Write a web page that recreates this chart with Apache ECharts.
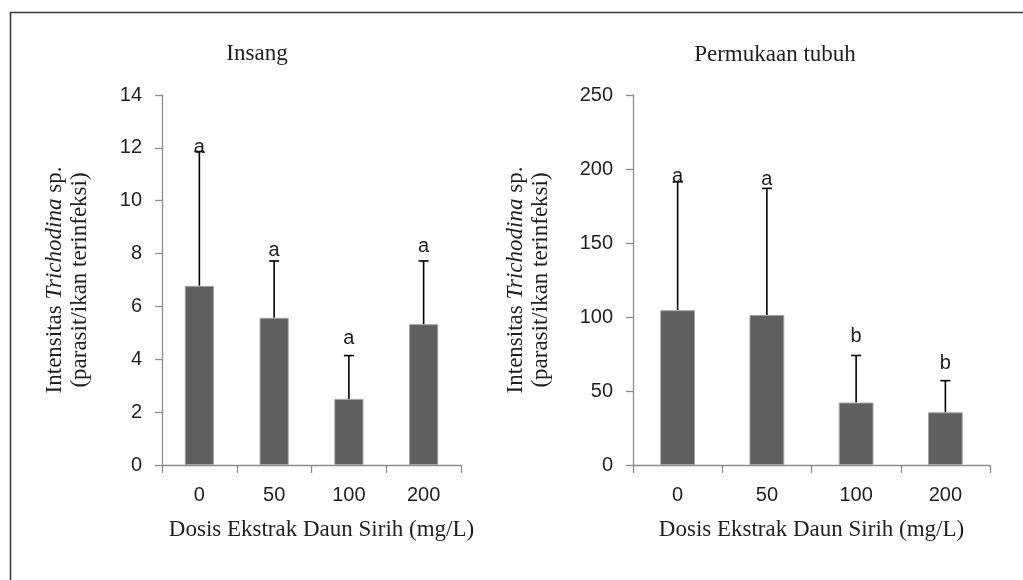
<!DOCTYPE html>
<html><head><meta charset="utf-8">
<script src="https://cdn.jsdelivr.net/npm/echarts@6/dist/echarts.min.js"></script>
<style>html,body{margin:0;padding:0;background:#fff}#c{width:1023px;height:580px}</style>
</head><body><div id="c"></div>
<script>
// ---- data ----
const doses = ['0', '50', '100', '200'];
const insangMean = [6.78, 5.57, 2.5, 5.33];
const insangUpper = [11.86, 7.72, 4.14, 7.72];
const insangLetters = ['a', 'a', 'a', 'a'];
const insangLetterAt = [12.0, 8.1, 4.8, 8.25];
const tubuhMean = [104.6, 101.4, 42.2, 35.6];
const tubuhUpper = [191.3, 186.9, 74, 57];
const tubuhLetters = ['a', 'a', 'b', 'b'];
const tubuhLetterAt = [194.7, 193, 87, 68.6];
const insangAxis = { min: 0, max: 14, interval: 2 };
const tubuhAxis = { min: 0, max: 250, interval: 50 };
const titles = ['Insang', 'Permukaan tubuh'];
const xName = 'Dosis Ekstrak Daun Sirih (mg/L)';

const SERIF = '"Liberation Serif", "Times New Roman", serif';
const SANS = '"Liberation Sans", Arial, sans-serif';
const TXT = '#1f1f1f';
const AX = '#8c8c8c';

const yName = '{n|Intensitas }{i|Trichodina}{n| sp.}\n{n|(parasit/ikan terinfeksi)}';
const yRich = {
  n: { fontFamily: SERIF, fontSize: 23, color: TXT, lineHeight: 25 },
  i: { fontFamily: SERIF, fontSize: 23, color: TXT, fontStyle: 'italic', lineHeight: 25 }
};

function xAxisOpt(gi, pad) {
  return {
    type: 'category', gridIndex: gi, data: doses,
    axisLine: { lineStyle: { color: AX, width: 1.3 } },
    axisTick: { show: true, length: 8, lineStyle: { color: AX, width: 1.3 } },
    axisLabel: { color: TXT, fontFamily: SANS, fontSize: 20, margin: 20 },
    name: xName, nameLocation: 'middle', nameGap: 53,
    nameTextStyle: { fontFamily: SERIF, fontSize: 23, color: TXT, padding: pad }
  };
}
function yAxisOpt(gi, ax, gap) {
  return {
    type: 'value', gridIndex: gi, min: ax.min, max: ax.max, interval: ax.interval,
    splitLine: { show: false },
    axisLine: { show: true, lineStyle: { color: AX, width: 1.3 } },
    axisTick: { show: true, length: 7, lineStyle: { color: AX, width: 1.3 } },
    axisLabel: { color: TXT, fontFamily: SANS, fontSize: 20, margin: 20 },
    name: yName, nameLocation: 'middle', nameRotate: 90, nameGap: gap,
    nameTextStyle: { rich: yRich, padding: [0, 0, 12, 0] }
  };
}
function barSeries(gi, vals) {
  return {
    type: 'bar', xAxisIndex: gi, yAxisIndex: gi, data: vals, barWidth: '39%',
    itemStyle: { color: '#5f5f5f', borderColor: '#a3a3a3', borderWidth: 1 },
    silent: true, animation: false
  };
}
function errSeries(gi, mean, upper) {
  return {
    type: 'custom', xAxisIndex: gi, yAxisIndex: gi, animation: false, silent: true,
    data: mean.map((m, i) => [i, m, upper[i]]),
    renderItem: function (params, api) {
      const a = api.coord([api.value(0), api.value(1)]);
      const b = api.coord([api.value(0), api.value(2)]);
      const st = { stroke: '#000', lineWidth: 1.6 };
      return { type: 'group', children: [
        { type: 'line', shape: { x1: a[0], y1: a[1], x2: b[0], y2: b[1] }, style: st },
        { type: 'line', shape: { x1: b[0] - 5, y1: b[1], x2: b[0] + 5, y2: b[1] }, style: st }
      ] };
    }
  };
}
function letterSeries(gi, letters, at) {
  return {
    type: 'custom', xAxisIndex: gi, yAxisIndex: gi, animation: false, silent: true,
    data: at.map((v, i) => [i, v]), z: 10,
    renderItem: function (params, api) {
      const c = api.coord([api.value(0), api.value(1)]);
      return { type: 'text', x: c[0], y: c[1], style: {
        text: letters[params.dataIndex], fill: TXT, fontFamily: SANS, fontSize: 20,
        align: 'center', verticalAlign: 'middle' } };
    }
  };
}

const chart = echarts.init(document.getElementById('c'), null, { renderer: 'canvas' });
chart.setOption({
  backgroundColor: '#fff',
  animation: false,
  grid: [
    { left: 162, top: 95, width: 299, height: 370 },
    { left: 633, top: 95, width: 357, height: 370 }
  ],
  xAxis: [xAxisOpt(0, [0, 0, 0, 20]), xAxisOpt(1, 0)],
  yAxis: [yAxisOpt(0, insangAxis, 58), yAxisOpt(1, tubuhAxis, 68)],
  series: [
    barSeries(0, insangMean), errSeries(0, insangMean, insangUpper), letterSeries(0, insangLetters, insangLetterAt),
    barSeries(1, tubuhMean), errSeries(1, tubuhMean, tubuhUpper), letterSeries(1, tubuhLetters, tubuhLetterAt)
  ],
  graphic: [
    { type: 'rect', shape: { x: 10.5, y: 12.5, width: 1200, height: 800 }, style: { fill: null, stroke: '#3a3a3a', lineWidth: 1.6 }, silent: true },
    { type: 'text', x: 257, y: 54, style: { text: titles[0], fontFamily: SERIF, fontSize: 23, fill: TXT, align: 'center', verticalAlign: 'middle' } },
    { type: 'text', x: 775, y: 55, style: { text: titles[1], fontFamily: SERIF, fontSize: 23, fill: TXT, align: 'center', verticalAlign: 'middle' } }
  ]
});
</script></body></html>
